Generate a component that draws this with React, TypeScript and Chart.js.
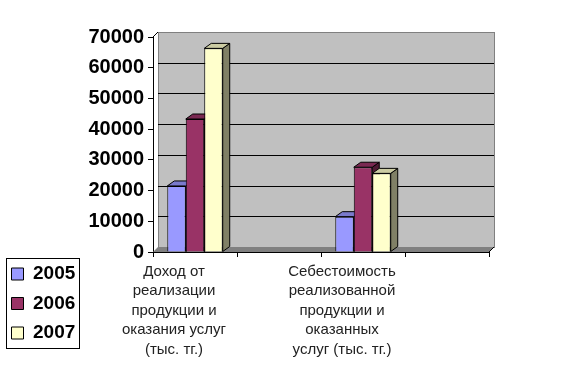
import React, { useEffect, useRef } from "react";
import { Chart, registerables } from "chart.js";

Chart.register(...registerables);

const categories: (string | string[])[] = [
  ["Доход от", "реализации", "продукции и", "оказания услуг", "(тыс. тг.)"],
  "",
  ["Себестоимость", "реализованной", "продукции и", "оказанных", "услуг (тыс. тг.)"],
  "",
];
const seriesNames = ["2005", "2006", "2007"];
const values2005 = [21500, null, 11500, null];
const values2006 = [43300, null, 27600, null];
const values2007 = [66300, null, 25600, null];
const yMin = 0;
const yMax = 70000;
const yStep = 10000;

const colors = ["#9999FF", "#993366", "#FFFFCC"];
const topColors = ["#7A7ACC", "#7A2952", "#CCCCA3"];
const sideColors = ["#4D4D80", "#4D1A33", "#808066"];

const threeD = {
  id: "threeD",
  beforeDraw(chart: any) {
    const x = chart.scales.x;
    if (x) x._computeLabelArea = () => undefined;
  },
  beforeDatasetsDraw(chart: any) {
    const { ctx, chartArea } = chart;
    const { left, right, top, bottom } = chartArea;
    const y = chart.scales.y;
    const dx = 5, dy = -5;
    ctx.save();
    ctx.fillStyle = "#c0c0c0";
    ctx.fillRect(left + dx, top + dy, right - left, bottom - top);
    ctx.strokeStyle = "#808080";
    ctx.lineWidth = 1;
    ctx.strokeRect(Math.round(left + dx) + 0.5, Math.round(top + dy) + 0.5, right - left, bottom - top);
    ctx.strokeStyle = "#000";
    y.ticks.forEach((t: any) => {
      if (t.value <= yMin || t.value >= yMax) return;
      const py = Math.round(y.getPixelForValue(t.value) + dy) + 0.5;
      ctx.beginPath();
      ctx.moveTo(left + dx, py);
      ctx.lineTo(right + dx, py);
      ctx.stroke();
    });
    ctx.fillStyle = "#808080";
    ctx.beginPath();
    ctx.moveTo(left, bottom);
    ctx.lineTo(right, bottom);
    ctx.lineTo(right + dx, bottom + dy);
    ctx.lineTo(left + dx, bottom + dy);
    ctx.closePath();
    ctx.fill();
    ctx.strokeStyle = "#000";
    ctx.beginPath();
    ctx.moveTo(left, top);
    ctx.lineTo(left + dx, top + dy);
    ctx.moveTo(right, bottom);
    ctx.lineTo(right + dx, bottom + dy);
    ctx.stroke();
    const bdx = 7, bdy = -5;
    const n = chart.data.labels.length;
    for (let j = 0; j < n; j++) {
      for (let i = 0; i < chart.data.datasets.length; i++) {
        const v = chart.data.datasets[i].data[j];
        if (v === null || v === undefined) continue;
        const bar: any = chart.getDatasetMeta(i).data[j];
        const p = bar.getProps(["x", "y", "width", "base"], true);
        const l = p.x - p.width / 2, r = p.x + p.width / 2;
        ctx.strokeStyle = "#000";
        ctx.lineWidth = 1;
        ctx.fillStyle = sideColors[i];
        ctx.beginPath();
        ctx.moveTo(r, p.y);
        ctx.lineTo(r + bdx, p.y + bdy);
        ctx.lineTo(r + bdx, p.base + bdy);
        ctx.lineTo(r, p.base);
        ctx.closePath();
        ctx.fill();
        ctx.stroke();
        ctx.fillStyle = topColors[i];
        ctx.beginPath();
        ctx.moveTo(l, p.y);
        ctx.lineTo(r, p.y);
        ctx.lineTo(r + bdx, p.y + bdy);
        ctx.lineTo(l + bdx, p.y + bdy);
        ctx.closePath();
        ctx.fill();
        ctx.stroke();
      }
    }
    ctx.restore();
  },
  afterDraw(chart: any) {
    const L = chart.legend;
    if (!L || !L.legendHitBoxes || !L.legendHitBoxes.length) return;
    let minX = Infinity, minY = Infinity, maxX = -Infinity, maxY = -Infinity;
    L.legendHitBoxes.forEach((h: any) => {
      minX = Math.min(minX, h.left);
      minY = Math.min(minY, h.top);
      maxX = Math.max(maxX, h.left + h.width);
      maxY = Math.max(maxY, h.top + h.height);
    });
    const ctx = chart.ctx;
    ctx.save();
    ctx.strokeStyle = "#000";
    ctx.lineWidth = 1;
    const x0 = Math.round(minX - 6) + 0.5;
    const y0 = Math.round(minY - 7) + 0.5;
    const x1 = Math.round(maxX + 4) + 0.5;
    const y1 = Math.round(maxY + 5) + 0.5;
    ctx.strokeRect(x0, y0, x1 - x0, y1 - y0);
    ctx.restore();
  },
};

export default function App() {
  const ref = useRef<HTMLCanvasElement>(null);
  useEffect(() => {
    document.body.style.margin = "0";
    const chart = new Chart(ref.current as HTMLCanvasElement, {
      type: "bar",
      data: {
        labels: categories,
        datasets: [
          { label: seriesNames[0], data: values2005, backgroundColor: colors[0], borderColor: "#000", borderWidth: 1 },
          { label: seriesNames[1], data: values2006, backgroundColor: colors[1], borderColor: "#000", borderWidth: 1 },
          { label: seriesNames[2], data: values2007, backgroundColor: colors[2], borderColor: "#000", borderWidth: 1 },
        ] as any,
      },
      options: {
        animation: false,
        responsive: false,
        maintainAspectRatio: false,
        layout: { padding: { top: 37, bottom: 17, left: 1, right: 75 } },
        datasets: { bar: { categoryPercentage: 0.66, barPercentage: 1 } } as any,
        plugins: {
          tooltip: { enabled: false },
          legend: {
            position: "left",
            align: "end",
            labels: {
              font: { family: "'Liberation Sans', Arial, sans-serif", size: 19, weight: "bold" },
              color: "#000",
              boxWidth: 12,
              boxHeight: 12,
              padding: 10.5,
            },
          },
        },
        scales: {
          x: {
            grid: { display: true, drawOnChartArea: false, offset: true, tickLength: 5, color: "#000" },
            border: { display: true, color: "#000" },
            ticks: {
              autoSkip: false,
              maxRotation: 0,
              labelOffset: -21,
              padding: 5,
              color: "#222",
              font: { family: "'Liberation Sans', Arial, sans-serif", size: 15, lineHeight: 1.3 },
            },
            afterFit(scale: any) {
              scale.height = 370 - 17 - 252;
            },
          },
          y: {
            min: yMin,
            max: yMax,
            ticks: {
              stepSize: yStep,
              color: "#000",
              padding: 4,
              font: { family: "'Liberation Sans', Arial, sans-serif", size: 20, weight: "bold" },
              callback: (v: any) => String(v),
            },
            grid: { display: true, drawOnChartArea: false, tickLength: 5, color: "#000" },
            border: { display: true, color: "#000" },
            afterFit(scale: any) {
              const L = scale.chart.legend;
              const lw = L && L.width ? L.width : 75;
              scale.width = 153 - 1 - lw;
            },
          },
        },
      },
      plugins: [threeD],
    } as any);
    return () => chart.destroy();
  }, []);
  return (
    <div style={{ position: "fixed", left: 0, top: 0, width: 564, height: 370, background: "#fff" }}>
      <canvas ref={ref} width={564} height={370} />
    </div>
  );
}
